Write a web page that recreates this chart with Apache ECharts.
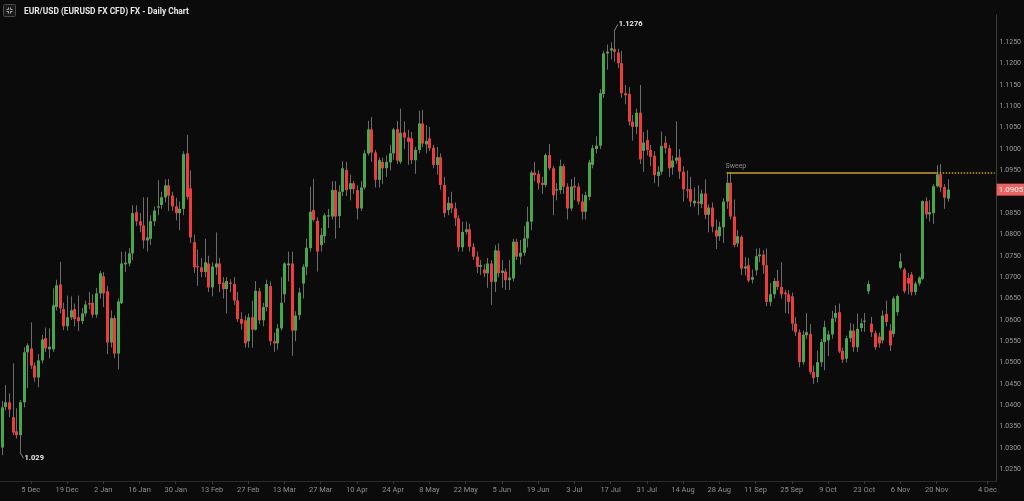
<!DOCTYPE html>
<html><head><meta charset="utf-8">
<script src="https://cdn.jsdelivr.net/npm/echarts@6/dist/echarts.min.js"></script>
<style>html,body{margin:0;padding:0;background:#0b0b0b;}#c{width:1024px;height:501px;}</style>
</head><body><div id="c"></div><script>
// ---- data (EUR/USD daily, 23 Nov 2022 .. 23 Nov 2023) ----
const firstDate = '2022-11-23';
const lastDate = '2023-11-23';
const totalSlots = 275;
const tickDates = ['2022-12-05','2022-12-19','2023-01-02','2023-01-16','2023-01-30','2023-02-13','2023-02-27','2023-03-13','2023-03-27','2023-04-10','2023-04-24','2023-05-08','2023-05-22','2023-06-05','2023-06-19','2023-07-03','2023-07-17','2023-07-31','2023-08-14','2023-08-28','2023-09-11','2023-09-25','2023-10-09','2023-10-23','2023-11-06','2023-11-20','2023-12-04'];
const priceTicks = [1.025,1.030,1.035,1.040,1.045,1.050,1.055,1.060,1.065,1.070,1.075,1.080,1.085,1.090,1.095,1.100,1.105,1.110,1.115,1.120,1.125];
const opens = [
1.0301,1.0396,1.0407,1.0372,1.0339,1.0330,1.0407,1.0524,1.0533,1.0493,
1.0465,1.0505,1.0557,1.0531,1.0531,1.0630,1.0683,1.0625,1.0585,1.0606,
1.0625,1.0606,1.0597,1.0615,1.0639,1.0640,1.0612,1.0662,1.0702,1.0667,
1.0547,1.0604,1.0521,1.0639,1.0730,1.0732,1.0756,1.0852,1.0831,1.0821,
1.0786,1.0790,1.0831,1.0863,1.0869,1.0887,1.0915,1.0891,1.0866,1.0850,
1.0860,1.0990,1.0908,1.0782,1.0726,1.0723,1.0712,1.0732,1.0676,1.0723,
1.0732,1.0687,1.0672,1.0687,1.0684,1.0646,1.0602,1.0599,1.0550,1.0606,
1.0577,1.0667,1.0599,1.0630,1.0679,1.0550,1.0545,1.0580,1.0660,1.0728,
1.0732,1.0575,1.0611,1.0685,1.0724,1.0768,1.0857,1.0832,1.0775,1.0796,
1.0842,1.0842,1.0904,1.0843,1.0900,1.0951,1.0906,1.0920,1.0904,1.0861,
1.0910,1.0990,1.1046,1.0992,1.0928,1.0970,1.0955,1.0969,1.0990,1.1046,
1.0970,1.1039,1.1027,1.1025,1.0974,1.0998,1.1060,1.1011,1.1025,1.1003,
1.0963,1.0981,1.0916,1.0857,1.0873,1.0861,1.0838,1.0770,1.0806,1.0812,
1.0771,1.0748,1.0724,1.0718,1.0709,1.0732,1.0689,1.0762,1.0710,1.0713,
1.0693,1.0697,1.0783,1.0748,1.0757,1.0791,1.0830,1.0945,1.0942,1.0921,
1.0916,1.0986,1.0955,1.0903,1.0904,1.0960,1.0912,1.0861,1.0914,1.0912,
1.0877,1.0853,1.0888,1.0963,1.1000,1.1008,1.1129,1.1224,1.1231,1.1234,
1.1226,1.1201,1.1131,1.1129,1.1064,1.1052,1.1085,1.0996,1.1021,1.0998,
1.0984,1.0937,1.0947,1.1015,1.1002,1.0957,1.0973,1.0981,1.0947,1.0906,
1.0906,1.0873,1.0877,1.0871,1.0896,1.0846,1.0863,1.0810,1.0796,1.0817,
1.0877,1.0921,1.0842,1.0779,1.0794,1.0720,1.0728,1.0694,1.0716,1.0749,
1.0753,1.0728,1.0642,1.0660,1.0691,1.0677,1.0664,1.0660,1.0655,1.0591,
1.0571,1.0501,1.0564,1.0567,1.0478,1.0466,1.0501,1.0548,1.0552,1.0566,
1.0605,1.0618,1.0527,1.0509,1.0557,1.0575,1.0536,1.0581,1.0597,1.0667,
1.0591,1.0569,1.0561,1.0552,1.0614,1.0575,1.0567,1.0618,1.0722,1.0718,
1.0698,1.0706,1.0665,1.0685,1.0696,1.0878,1.0847,1.0850,1.0913,1.0941,
1.0911,1.0884];
const closes = [
1.0395,1.0407,1.0390,1.0336,1.0330,1.0407,1.0524,1.0540,1.0493,1.0465,
1.0505,1.0554,1.0533,1.0537,1.0634,1.0681,1.0627,1.0585,1.0606,1.0622,
1.0602,1.0597,1.0615,1.0636,1.0636,1.0612,1.0662,1.0709,1.0662,1.0547,
1.0604,1.0521,1.0643,1.0732,1.0734,1.0756,1.0850,1.0831,1.0821,1.0786,
1.0793,1.0831,1.0856,1.0866,1.0887,1.0915,1.0891,1.0866,1.0850,1.0860,
1.0988,1.0888,1.0793,1.0723,1.0723,1.0712,1.0735,1.0676,1.0725,1.0732,
1.0684,1.0672,1.0691,1.0684,1.0645,1.0602,1.0591,1.0545,1.0606,1.0577,
1.0668,1.0599,1.0630,1.0684,1.0550,1.0545,1.0580,1.0640,1.0732,1.0732,
1.0575,1.0610,1.0664,1.0724,1.0769,1.0853,1.0834,1.0760,1.0799,1.0845,
1.0845,1.0904,1.0842,1.0900,1.0955,1.0904,1.0920,1.0906,1.0861,1.0910,
1.0990,1.1046,1.0992,1.0928,1.0974,1.0955,1.0970,1.0990,1.1046,1.0973,
1.1038,1.1027,1.1017,1.0974,1.0998,1.1060,1.1013,1.1019,1.1002,1.0963,
1.0981,1.0916,1.0850,1.0874,1.0861,1.0838,1.0770,1.0806,1.0812,1.0771,
1.0748,1.0724,1.0728,1.0709,1.0732,1.0689,1.0763,1.0709,1.0715,1.0693,
1.0699,1.0783,1.0748,1.0757,1.0791,1.0830,1.0945,1.0939,1.0920,1.0916,
1.0986,1.0955,1.0892,1.0906,1.0960,1.0912,1.0861,1.0912,1.0910,1.0877,
1.0853,1.0892,1.0969,1.1002,1.1008,1.1131,1.1224,1.1228,1.1236,1.1228,
1.1201,1.1131,1.1126,1.1064,1.1052,1.1085,1.0976,1.1015,1.0998,1.0982,
1.0939,1.0947,1.1007,1.1002,1.0955,1.0973,1.0980,1.0947,1.0906,1.0903,
1.0877,1.0879,1.0873,1.0896,1.0846,1.0863,1.0818,1.0795,1.0818,1.0877,
1.0921,1.0842,1.0775,1.0796,1.0720,1.0725,1.0692,1.0700,1.0749,1.0753,
1.0728,1.0642,1.0660,1.0691,1.0677,1.0660,1.0660,1.0642,1.0591,1.0571,
1.0501,1.0565,1.0571,1.0478,1.0464,1.0501,1.0548,1.0583,1.0566,1.0603,
1.0616,1.0526,1.0507,1.0557,1.0575,1.0536,1.0579,1.0592,1.0598,1.0684,
1.0571,1.0536,1.0545,1.0610,1.0595,1.0540,1.0650,1.0656,1.0737,1.0667,
1.0685,1.0665,1.0685,1.0699,1.0878,1.0847,1.0852,1.0913,1.0941,1.0910,
1.0886,1.0905];
const lows = [
1.0283,1.0388,1.0372,1.0330,1.0322,1.0290,1.0395,1.0440,1.0485,1.0455,
1.0442,1.0498,1.0525,1.0510,1.0525,1.0622,1.0615,1.0576,1.0575,1.0600,
1.0585,1.0574,1.0590,1.0608,1.0625,1.0605,1.0605,1.0650,1.0630,1.0520,
1.0535,1.0510,1.0484,1.0637,1.0712,1.0725,1.0740,1.0820,1.0805,1.0767,
1.0760,1.0775,1.0820,1.0845,1.0860,1.0875,1.0855,1.0855,1.0833,1.0810,
1.0845,1.0882,1.0780,1.0710,1.0680,1.0700,1.0700,1.0665,1.0655,1.0705,
1.0665,1.0650,1.0615,1.0665,1.0635,1.0595,1.0577,1.0535,1.0535,1.0535,
1.0575,1.0590,1.0585,1.0620,1.0540,1.0525,1.0530,1.0575,1.0640,1.0690,
1.0516,1.0550,1.0600,1.0650,1.0705,1.0760,1.0830,1.0713,1.0760,1.0780,
1.0815,1.0835,1.0790,1.0815,1.0890,1.0890,1.0880,1.0895,1.0835,1.0855,
1.0905,1.0985,1.0970,1.0910,1.0910,1.0918,1.0935,1.0950,1.0975,1.0965,
1.0965,1.1000,1.0963,1.0965,1.0942,1.0990,1.1005,1.0990,1.0995,1.0955,
1.0940,1.0905,1.0840,1.0845,1.0850,1.0820,1.0760,1.0760,1.0800,1.0760,
1.0740,1.0710,1.0705,1.0700,1.0675,1.0635,1.0665,1.0700,1.0675,1.0670,
1.0670,1.0690,1.0740,1.0730,1.0750,1.0770,1.0810,1.0925,1.0905,1.0895,
1.0910,1.0950,1.0845,1.0880,1.0895,1.0895,1.0835,1.0855,1.0880,1.0870,
1.0835,1.0835,1.0880,1.0955,1.0990,1.1000,1.1120,1.1186,1.1210,1.1205,
1.1190,1.1120,1.1105,1.1055,1.1020,1.1035,1.0965,1.0947,1.0985,1.0960,
1.0920,1.0912,1.0940,1.0990,1.0935,1.0940,1.0965,1.0930,1.0877,1.0885,
1.0865,1.0865,1.0845,1.0862,1.0836,1.0805,1.0805,1.0766,1.0785,1.0780,
1.0860,1.0835,1.0770,1.0770,1.0705,1.0704,1.0688,1.0685,1.0704,1.0735,
1.0708,1.0632,1.0632,1.0650,1.0670,1.0650,1.0616,1.0614,1.0575,1.0562,
1.0489,1.0495,1.0555,1.0472,1.0450,1.0453,1.0490,1.0482,1.0515,1.0556,
1.0595,1.0522,1.0499,1.0500,1.0548,1.0525,1.0525,1.0572,1.0572,1.0660,
1.0560,1.0530,1.0535,1.0545,1.0585,1.0527,1.0560,1.0610,1.0718,1.0662,
1.0660,1.0657,1.0658,1.0680,1.0693,1.0837,1.0830,1.0825,1.0910,1.0899,
1.0860,1.0877];
const highs = [
1.0410,1.0447,1.0428,1.0498,1.0393,1.0412,1.0536,1.0545,1.0594,1.0500,
1.0520,1.0565,1.0582,1.0580,1.0674,1.0694,1.0736,1.0640,1.0657,1.0655,
1.0638,1.0657,1.0628,1.0645,1.0665,1.0660,1.0675,1.0714,1.0712,1.0680,
1.0622,1.0610,1.0650,1.0760,1.0760,1.0768,1.0868,1.0868,1.0850,1.0887,
1.0887,1.0845,1.0865,1.0927,1.0900,1.0929,1.0930,1.0900,1.0886,1.0877,
1.0995,1.1033,1.0950,1.0800,1.0765,1.0745,1.0790,1.0750,1.0735,1.0805,
1.0745,1.0700,1.0700,1.0695,1.0700,1.0665,1.0618,1.0610,1.0615,1.0645,
1.0691,1.0675,1.0640,1.0694,1.0690,1.0570,1.0590,1.0700,1.0735,1.0760,
1.0760,1.0620,1.0675,1.0730,1.0790,1.0912,1.0930,1.0840,1.0815,1.0850,
1.0860,1.0925,1.0925,1.0915,1.0972,1.0970,1.0940,1.0925,1.0915,1.0925,
1.0998,1.1066,1.1075,1.0998,1.0980,1.0980,1.0985,1.1010,1.1050,1.1066,
1.1095,1.1065,1.1045,1.1040,1.1005,1.1090,1.1092,1.1056,1.1052,1.1010,
1.1005,1.0990,1.0935,1.0888,1.0900,1.0875,1.0845,1.0830,1.0830,1.0825,
1.0780,1.0760,1.0740,1.0730,1.0745,1.0740,1.0775,1.0779,1.0740,1.0720,
1.0740,1.0790,1.0790,1.0787,1.0820,1.0865,1.0950,1.0970,1.0950,1.0935,
1.0990,1.1012,1.0960,1.0920,1.0975,1.0965,1.0920,1.0930,1.0935,1.0920,
1.0895,1.0900,1.0975,1.1010,1.1030,1.1140,1.1230,1.1245,1.1250,1.1276,
1.1235,1.1230,1.1150,1.1145,1.1080,1.1095,1.1150,1.1040,1.1045,1.1010,
1.0995,1.0960,1.1041,1.1030,1.1010,1.0985,1.1065,1.1000,1.0960,1.0950,
1.0935,1.0910,1.0915,1.0905,1.0929,1.0870,1.0875,1.0835,1.0830,1.0885,
1.0945,1.0945,1.0882,1.0810,1.0798,1.0747,1.0745,1.0718,1.0767,1.0768,
1.0763,1.0767,1.0686,1.0698,1.0717,1.0735,1.0670,1.0670,1.0664,1.0607,
1.0578,1.0575,1.0616,1.0590,1.0493,1.0528,1.0555,1.0598,1.0575,1.0621,
1.0634,1.0638,1.0535,1.0563,1.0593,1.0590,1.0615,1.0603,1.0616,1.0692,
1.0607,1.0575,1.0570,1.0622,1.0645,1.0590,1.0655,1.0660,1.0756,1.0722,
1.0710,1.0712,1.0690,1.0702,1.0880,1.0887,1.0880,1.0918,1.0962,1.0965,
1.0918,1.0929];
const lastPrice = 1.0905;
const sweepLevel = 1.0945;
const sweepStartIdx = 200, sweepSolidEndIdx = 258, sweepDotEndIdx = 274;
const highNote = {idx:169, value:1.1276, text:'1.1276', tipValue:1.1292};
const lowNote = {idx:5, value:1.0290, text:'1.029', tipValue:1.0276};

// ---- categories: trading weekdays, then calendar days after the last bar ----
const MONTHS=['Jan','Feb','Mar','Apr','May','Jun','Jul','Aug','Sep','Oct','Nov','Dec'];
function iso(d){return d.toISOString().slice(0,10);}
const categories=[];
{
  let t=Date.parse(firstDate+'T00:00:00Z'); const tLast=Date.parse(lastDate+'T00:00:00Z');
  while(categories.length<totalSlots){
    const d=new Date(t), wd=d.getUTCDay();
    if(t>tLast || (wd!==0 && wd!==6)) categories.push(iso(d));
    t+=86400000;
  }
}
const tickSet=new Set(tickDates);
function fmtDate(s){const d=new Date(s+'T00:00:00Z');return d.getUTCDate()+' '+MONTHS[d.getUTCMonth()];}
const rows=opens.map((o,i)=>[i,o,closes[i],lows[i],highs[i]]);

const chart=echarts.init(document.getElementById('c'),null,{renderer:'canvas'});
const FONT='Roboto, "Noto Sans", sans-serif';
const noteLabel={show:true,position:'right',distance:1,formatter:'{b}',color:'#e8e8e8',fontSize:7.5,fontWeight:'bold',fontFamily:FONT};
chart.setOption({
  backgroundColor:'#0b0b0b',
  animation:false,
  title:{text:'EUR/USD (EURUSD FX CFD) FX - Daily Chart',left:19,top:3,
    textStyle:{color:'#e6e6e6',fontSize:8.4,fontWeight:'bold',fontFamily:FONT}},
  graphic:[{type:'group',left:3,top:4,children:[
    {type:'rect',shape:{x:0,y:0,width:12,height:12,r:1},style:{fill:'#1a1a1a',stroke:'#4a4a4a',lineWidth:1}},
    {type:'polyline',shape:{points:[[3,5],[5,5],[5,3]]},style:{stroke:'#aaa',fill:null,lineWidth:1}},
    {type:'polyline',shape:{points:[[9,5],[7,5],[7,3]]},style:{stroke:'#aaa',fill:null,lineWidth:1}},
    {type:'polyline',shape:{points:[[3,7],[5,7],[5,9]]},style:{stroke:'#aaa',fill:null,lineWidth:1}},
    {type:'polyline',shape:{points:[[9,7],[7,7],[7,9]]},style:{stroke:'#aaa',fill:null,lineWidth:1}}
  ]}],
  grid:{left:0,right:25,top:15,bottom:20,containLabel:false},
  xAxis:{type:'category',data:categories,boundaryGap:true,
    axisLine:{show:true,lineStyle:{color:'#2a2a2a'}},
    axisTick:{show:true,alignWithLabel:true,length:3,interval:(i,v)=>tickSet.has(v),lineStyle:{color:'#3a3a3a'}},
    axisLabel:{interval:(i,v)=>tickSet.has(v),formatter:v=>fmtDate(v),color:'#8f8f8f',fontSize:7.5,margin:5,fontFamily:FONT},
    splitLine:{show:false}},
  yAxis:{type:'value',position:'right',min:1.02226,max:1.1314,
    axisLine:{show:true,lineStyle:{color:'#3c3c3c'}},
    axisTick:{show:false},splitLine:{show:false},
    axisLabel:{customValues:priceTicks,formatter:v=>v.toFixed(4),color:'#9a9a9a',fontSize:7,margin:3,fontFamily:FONT}},
  series:[
    {type:'custom',name:'EURUSD',data:rows,encode:{x:0,y:[1,2,3,4]},clip:true,
     renderItem:function(params,api){
       const i=api.value(0),o=api.value(1),c=api.value(2),l=api.value(3),h=api.value(4);
       const pO=api.coord([i,o]),pC=api.coord([i,c]),pL=api.coord([i,l]),pH=api.coord([i,h]);
       const cx=Math.round(pO[0]);
       const top=Math.min(pO[1],pC[1]),hh=Math.max(1,Math.abs(pO[1]-pC[1]));
       const up=c>=o;
       return {type:'group',children:[
         {type:'line',shape:{x1:cx+0.5,y1:pH[1],x2:cx+0.5,y2:pL[1]},style:{stroke:'#6c6c6c',lineWidth:1}},
         {type:'rect',shape:{x:cx-1,y:top,width:3,height:hh},style:{fill:up?'#47a84b':'#ef3b3b'}}
       ]};
     }},
    {type:'line',data:[],silent:true,clip:false,
     markLine:{silent:true,symbol:['none','none'],animation:false,
       data:[
         [{coord:[sweepStartIdx,sweepLevel],lineStyle:{color:'#c9a21b',width:1.6,type:'solid'},
           label:{show:true,position:'insideStartTop',formatter:'Sweep',color:'#8a8a8a',fontSize:7,distance:[-1,3],fontFamily:FONT}},
          {coord:[sweepSolidEndIdx,sweepLevel]}],
         [{coord:[sweepSolidEndIdx,sweepLevel],lineStyle:{color:'#c9a21b',width:1.6,type:[1.5,1.5]},label:{show:false}},
          {coord:[sweepDotEndIdx,sweepLevel]}],
         [{coord:[highNote.idx,highNote.value],lineStyle:{color:'#8a8a8a',width:1,type:'solid'},label:{show:false}},
          {coord:[highNote.idx+1,highNote.tipValue]}],
         [{coord:[lowNote.idx,lowNote.value],lineStyle:{color:'#8a8a8a',width:1,type:'solid'},label:{show:false}},
          {coord:[lowNote.idx+1,lowNote.tipValue]}]
       ]},
     markPoint:{silent:true,symbol:'circle',symbolSize:0,animation:false,
       data:[
         {coord:[highNote.idx+1,highNote.tipValue],name:highNote.text,label:noteLabel},
         {coord:[lowNote.idx+1,lowNote.tipValue],name:lowNote.text,label:noteLabel},
         {coord:[sweepDotEndIdx,lastPrice],name:lastPrice.toFixed(4),
          label:{show:true,position:'right',distance:2,formatter:'{b}',backgroundColor:'#f0605c',color:'#ffffff',
            fontSize:8,padding:[2,4,2,2],fontFamily:FONT}}
       ]}}
  ]
});
</script></body></html>
